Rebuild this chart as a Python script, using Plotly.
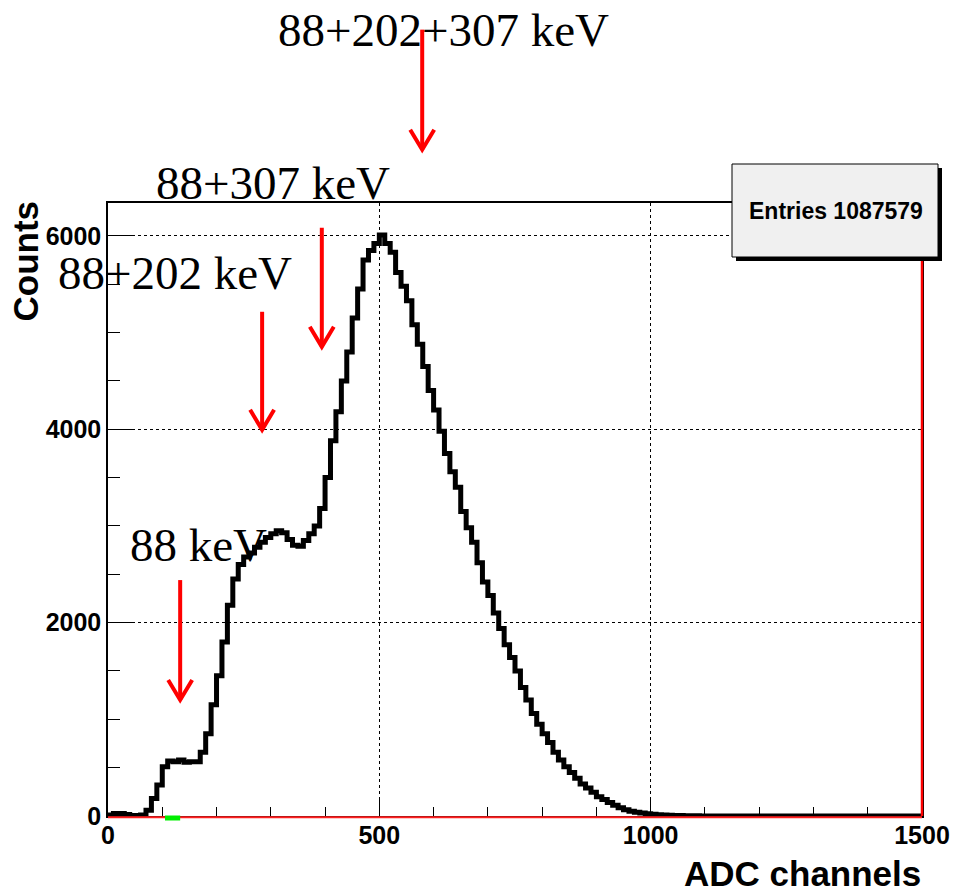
import plotly.graph_objects as go

# ---------------- data ----------------
bin_width = 10
bin_edges = list(range(0, 1500, bin_width))
counts = [
    10, 25, 25, 15, 5, 5, 10, 60, 180, 320,
    510, 570, 560, 580, 555, 560, 560, 660, 850, 1150,
    1450, 1800, 2180, 2450, 2600, 2680, 2720, 2780, 2830, 2880,
    2920, 2950, 2930, 2860, 2800, 2790, 2850, 2920, 3000, 3180,
    3500, 3880, 4180, 4500, 4800, 5150, 5450, 5750, 5850, 5920,
    6010, 5920, 5830, 5620, 5480, 5330, 5080, 4880, 4650, 4400,
    4200, 3980, 3750, 3560, 3400, 3150, 2980, 2830, 2620, 2420,
    2280, 2100, 1940, 1770, 1640, 1500, 1330, 1200, 1060, 950,
    850, 760, 660, 580, 510, 450, 390, 330, 290, 245,
    200, 170, 140, 110, 85, 65, 50, 40, 30, 24,
    18, 14, 10, 8, 6, 4, 3, 2, 2, 1,
    1, 1, 0, 0, 0, 0, 0, 0, 0, 0,
    0, 0, 0, 0, 0, 0, 0, 0, 0, 0,
    0, 0, 0, 0, 0, 0, 0, 0, 0, 0,
    0, 0, 0, 0, 0, 0, 0, 0, 0, 0,
]
x_range = [0, 1500]
y_max = 6340
x_ticks = [0, 500, 1000, 1500]
y_ticks = [0, 2000, 4000, 6000]

peak_labels = ["88 keV", "88+202 keV", "88+307 keV", "88+202+307 keV"]
arrow_x = [133, 284, 394, 579]
arrow_tail = [2440, 5215, 6084, 8133]
arrow_tip = [1200, 3994, 4853, 6891]
# label centres in pixels (layout only)
label_px = [(198, 545), (175, 273), (273, 183), (443, 30)]

fit_range = [105, 133]
entries = 1087579

# ---------------- figure ----------------
W, H = 955, 895
ML, MR, MT, MB = 108, 33, 203, 79
PW, PH = W - ML - MR, H - MT - MB


def px_x(p):
    return (p - ML) / PW


def px_y(p):
    return (H - MB - p) / PH


fig = go.Figure()

hx = bin_edges + [bin_edges[-1] + bin_width]
hy = counts + [counts[-1]]
fig.add_trace(go.Scatter(x=hx, y=hy, mode="lines", line_shape="hv",
                         line=dict(color="black", width=5)))

shapes = []
# red function line along the x axis
shapes.append(dict(type="line", xref="paper", yref="paper", x0=0, x1=1,
                   y0=-1.2 / PH, y1=-1.2 / PH, line=dict(color="#ff2020", width=2), layer="above"))
# fit-range marker (green) just on the x axis
shapes.append(dict(type="line", xref="x", yref="paper", x0=fit_range[0], x1=fit_range[1],
                   y0=-2 / PH, y1=-2 / PH, line=dict(color="#00ee00", width=5), layer="above"))
# red vertical line at right edge (x = 1500)
shapes.append(dict(type="line", xref="paper", yref="paper", x0=1, x1=1,
                   y0=0, y1=1, line=dict(color="red", width=2.5), layer="above"))

dx_head = 12 / PW * (x_range[1] - x_range[0])
dy_head = 20 / PH
for xa, yt, yp in zip(arrow_x, arrow_tail, arrow_tip):
    t = yt / y_max
    p = yp / y_max
    shapes.append(dict(type="line", xref="x", yref="paper", x0=xa, x1=xa, y0=t, y1=p,
                       line=dict(color="red", width=4), layer="above"))
    shapes.append(dict(type="path", xref="x", yref="paper",
                       path=f"M {xa - dx_head},{p + dy_head} L {xa},{p} L {xa + dx_head},{p + dy_head}",
                       line=dict(color="red", width=4), layer="above"))

# stats box with shadow
bx0, bx1, by0, by1 = 732, 938, 164, 257
shapes.append(dict(type="rect", xref="paper", yref="paper",
                   x0=px_x(bx0 + 4), x1=px_x(bx1 + 4), y0=px_y(by1 + 4), y1=px_y(by0 + 4),
                   fillcolor="black", line=dict(width=0), layer="above"))
shapes.append(dict(type="rect", xref="paper", yref="paper",
                   x0=px_x(bx0), x1=px_x(bx1), y0=px_y(by1), y1=px_y(by0),
                   fillcolor="#f0f0f0", line=dict(color="black", width=1), layer="above"))

annotations = []
for txt, (xp, yp) in zip(peak_labels, label_px):
    annotations.append(dict(text=txt, x=px_x(xp), y=px_y(yp), xref="paper", yref="paper",
                            showarrow=False, xanchor="center", yanchor="middle",
                            font=dict(family="Liberation Serif, Times New Roman, serif",
                                      size=47, color="black")))

annotations.append(dict(text=f"Entries {entries}", x=px_x(836), y=px_y(211),
                        xref="paper", yref="paper", showarrow=False,
                        xanchor="center", yanchor="middle",
                        font=dict(family="Liberation Sans, Arial", size=23,
                                  color="black", weight="bold")))
annotations.append(dict(text="Counts", x=px_x(25), y=px_y(199), xref="paper", yref="paper",
                        showarrow=False, textangle=-90, xanchor="center", yanchor="top",
                        font=dict(family="Liberation Sans, Arial", size=35,
                                  color="black", weight="bold")))
annotations.append(dict(text="ADC channels", x=px_x(922), y=px_y(894), xref="paper", yref="paper",
                        showarrow=False, xanchor="right", yanchor="bottom", borderpad=0,
                        font=dict(family="Liberation Sans, Arial", size=35,
                                  color="black", weight="bold")))

tickfont = dict(family="Liberation Sans, Arial", size=25, color="black", weight="bold")

fig.update_layout(
    width=W, height=H, autosize=False,
    margin=dict(l=ML, r=MR, t=MT, b=MB, autoexpand=False),
    paper_bgcolor="white", plot_bgcolor="white",
    showlegend=False,
    shapes=shapes, annotations=annotations,
    xaxis=dict(range=x_range, tickvals=x_ticks, ticks="inside", ticklen=18,
               tickcolor="black", tickwidth=1, showline=True, linecolor="black",
               linewidth=1.5, mirror=True, showgrid=True, gridcolor="black",
               griddash="dot", gridwidth=1, zeroline=False, tickfont=tickfont,
               ticklabelstandoff=-4, automargin=False,
               minor=dict(dtick=100, tick0=0, ticks="inside", ticklen=9,
                          tickcolor="black", showgrid=False)),
    yaxis=dict(range=[0, y_max], tickvals=y_ticks, ticks="inside", ticklen=24,
               tickcolor="black", tickwidth=1, showline=True, linecolor="black",
               linewidth=1.5, mirror=True, showgrid=True, gridcolor="black",
               griddash="dot", gridwidth=1, zeroline=False, tickfont=tickfont,
               automargin=False,
               minor=dict(dtick=500, tick0=0, ticks="inside", ticklen=12,
                          tickcolor="black", showgrid=False)),
)

fig.write_html("out.html")
